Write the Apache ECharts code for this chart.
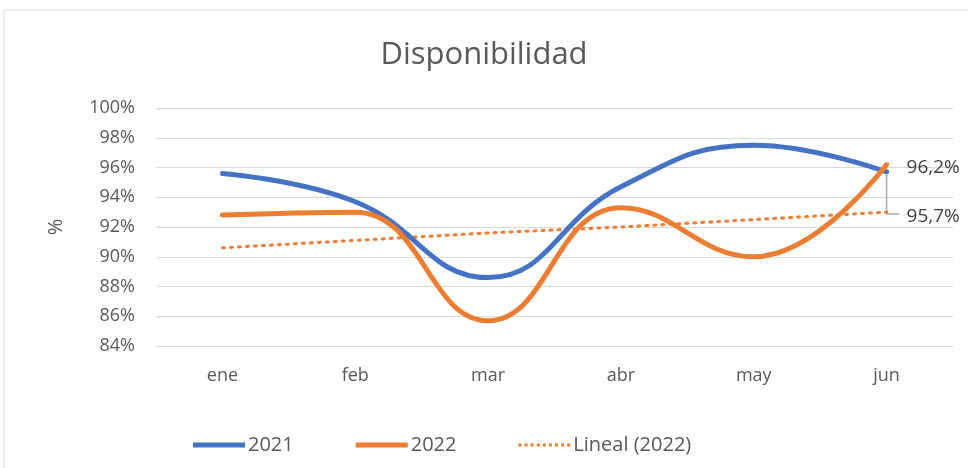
<!DOCTYPE html>
<html lang="es">
<head>
    <meta charset="utf-8">
</head>
<body style="margin:0">
<div id="chart" style="width:968px; height:468px;"></div>
<script type="text/javascript" src="https://cdn.jsdelivr.net/npm/echarts@6/dist/echarts.min.js"></script>
<script type="text/javascript">
var meses = ['ene', 'feb', 'mar', 'abr', 'may', 'jun'];
var datos2021 = [95.6, 93.7, 88.6, 94.7, 97.5, 95.7];
var datos2022 = [92.8, 93.0, 85.7, 93.3, 90.0, 96.2];
var lineal2022 = [90.6, 91.1, 91.6, 92.0, 92.5, 93.0];
var ticksY = [84, 100, 2];

var gris = '#595959';
var fuente = '"Open Sans", "Noto Sans", sans-serif';

function etiquetaFinal(p) {
    return p.value.toFixed(1).replace('.', ',') + '%';
}

// iconos de leyenda: linea gruesa y linea de puntos
var iconoSolido = 'path://M0,0h52v5h-52z';
var puntos = '';
for (var k = 0; k < 9; k++) {
    puntos += 'M' + (k * 6.1) + ',1h3v3h-3z';
}
var iconoPuntos = 'path://M0,0h0.01v0.01h-0.01zM0,5h0.01v0.01h-0.01z' + puntos;

var myChart = echarts.init(document.getElementById('chart'));

var marco = {
    type: 'rect',
    shape: { x: 4, y: 10, width: 980, height: 470 },
    style: { fill: 'none', stroke: '#d9d9d9', lineWidth: 1 },
    silent: true
};

var option = {
    backgroundColor: '#fff',
    textStyle: { fontFamily: fuente },
    graphic: [marco],
    title: {
        text: 'Disponibilidad',
        left: 'center',
        top: 35,
        textStyle: { fontSize: 31, fontWeight: 'normal', color: gris, fontFamily: fuente }
    },
    grid: { left: 156, right: 15, top: 108, bottom: 122 },
    legend: {
        bottom: 8,
        left: 188,
        itemWidth: 52,
        itemHeight: 5,
        itemGap: 62,
        textStyle: { fontSize: 20, color: gris, padding: [0, 0, 0, -2] },
        data: [
            { name: '2021', icon: iconoSolido },
            { name: '2022', icon: iconoSolido },
            { name: 'Lineal (2022)', icon: iconoPuntos }
        ]
    },
    xAxis: {
        type: 'category',
        data: meses,
        axisLine: { show: false },
        axisTick: { show: false },
        axisLabel: { fontSize: 18, color: gris, margin: 21 }
    },
    yAxis: {
        type: 'value',
        min: ticksY[0],
        max: ticksY[1],
        interval: ticksY[2],
        name: '%',
        nameLocation: 'middle',
        nameGap: 90,
        nameRotate: 90,
        nameTextStyle: { fontSize: 20, color: gris },
        axisLine: { show: false },
        axisTick: { show: false },
        axisLabel: { fontSize: 18, color: gris, margin: 21, formatter: '{value}%' },
        splitLine: { lineStyle: { color: '#d9d9d9', width: 1 } }
    },
    series: [{
        name: '2021',
        type: 'line',
        data: datos2021,
        smooth: 0.45,
        symbol: 'none',
        lineStyle: { color: '#4472c4', width: 5, cap: 'round' },
        itemStyle: { color: '#4472c4' },
        endLabel: {
            show: true,
            distance: 20,
            offset: [0, 45],
            fontSize: 19,
            color: '#404040',
            formatter: etiquetaFinal
        },
        z: 2
    }, {
        name: '2022',
        type: 'line',
        data: datos2022,
        smooth: 0.45,
        symbol: 'none',
        lineStyle: { color: '#ed7d31', width: 5, cap: 'round' },
        itemStyle: { color: '#ed7d31' },
        endLabel: {
            show: true,
            distance: 20,
            offset: [0, 3],
            fontSize: 19,
            color: '#404040',
            formatter: etiquetaFinal
        },
        z: 3
    }, {
        name: 'Lineal (2022)',
        type: 'line',
        data: lineal2022,
        symbol: 'none',
        lineStyle: { color: '#ed7d31', width: 3, type: [2, 6], cap: 'round' },
        itemStyle: { color: '#ed7d31' },
        z: 1
    }]
};

myChart.setOption(option);

// linea guia de la etiqueta 2021
var ult = meses.length - 1;
var p = myChart.convertToPixel({ seriesIndex: 0 }, [ult, datos2021[ult]]);
myChart.setOption({
    graphic: [marco, {
        type: 'polyline',
        shape: { points: [[p[0], p[1] + 3], [p[0], p[1] + 42], [p[0] + 13, p[1] + 42]] },
        style: { fill: 'none', stroke: '#a6a6a6', lineWidth: 1.5 },
        silent: true,
        z: 1
    }]
});
</script>
</body>
</html>
